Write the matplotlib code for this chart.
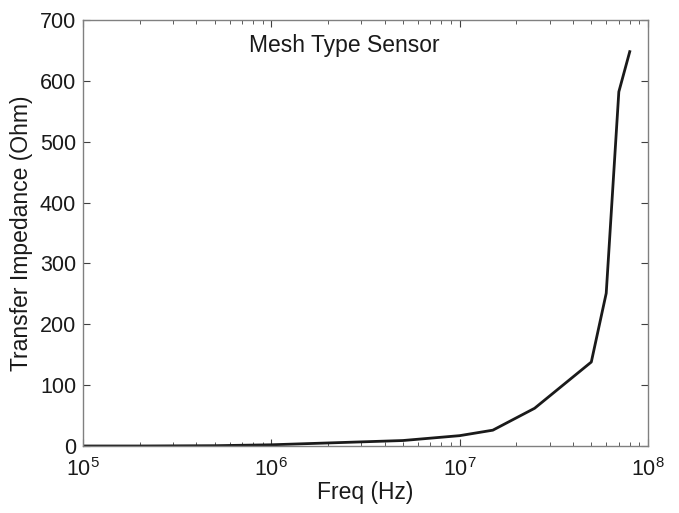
import numpy as np
import matplotlib
matplotlib.use("Agg")
import matplotlib.pyplot as plt
from matplotlib.ticker import LogLocator

plt.rcParams["font.family"] = ["Liberation Sans", "DejaVu Sans"]

freq_hz = [1e5, 2e5, 5e5, 1e6, 2e6, 5e6, 1e7, 1.5e7, 2.5e7, 5e7, 6e7, 7e7, 8e7]
impedance_ohm = [0, 0, 0.5, 2, 5, 9, 17, 26, 62, 138, 251, 582, 648]

fig = plt.figure(figsize=(6.79, 5.13), dpi=100)
ax = fig.add_axes([83/679, 1 - 446/513, 565/679, 426/513])

ax.plot(freq_hz, impedance_ohm, color="#1a1a1a", lw=2.0)
ax.set_xscale("log")
ax.set_xlim(1e5, 1e8)
ax.set_ylim(0, 700)
ax.set_yticks(np.arange(0, 701, 100))
ax.xaxis.set_major_locator(LogLocator(base=10, numticks=10))
ax.xaxis.set_minor_locator(LogLocator(base=10, subs=np.arange(2, 10), numticks=10))

for s in ax.spines.values():
    s.set_color("#808080")
    s.set_linewidth(1.0)
ax.tick_params(which="both", direction="in", top=True, right=True,
               color="#404040", labelsize=15.5, labelcolor="#1a1a1a")
ax.tick_params(which="major", length=5, width=0.8, pad=5)
ax.tick_params(which="minor", length=3, width=0.6)
ax.tick_params(axis="x", which="major", pad=9)

ax.set_xlabel("Freq (Hz)", fontsize=16.5, color="#1a1a1a", labelpad=0)
ax.set_ylabel("Transfer Impedance (Ohm)", fontsize=16.5, color="#1a1a1a", labelpad=5)
ax.text(0.462, 0.94, "Mesh Type Sensor", transform=ax.transAxes,
        ha="center", va="center", fontsize=16.5, color="#1a1a1a")

fig.savefig("out.png", dpi=100)
